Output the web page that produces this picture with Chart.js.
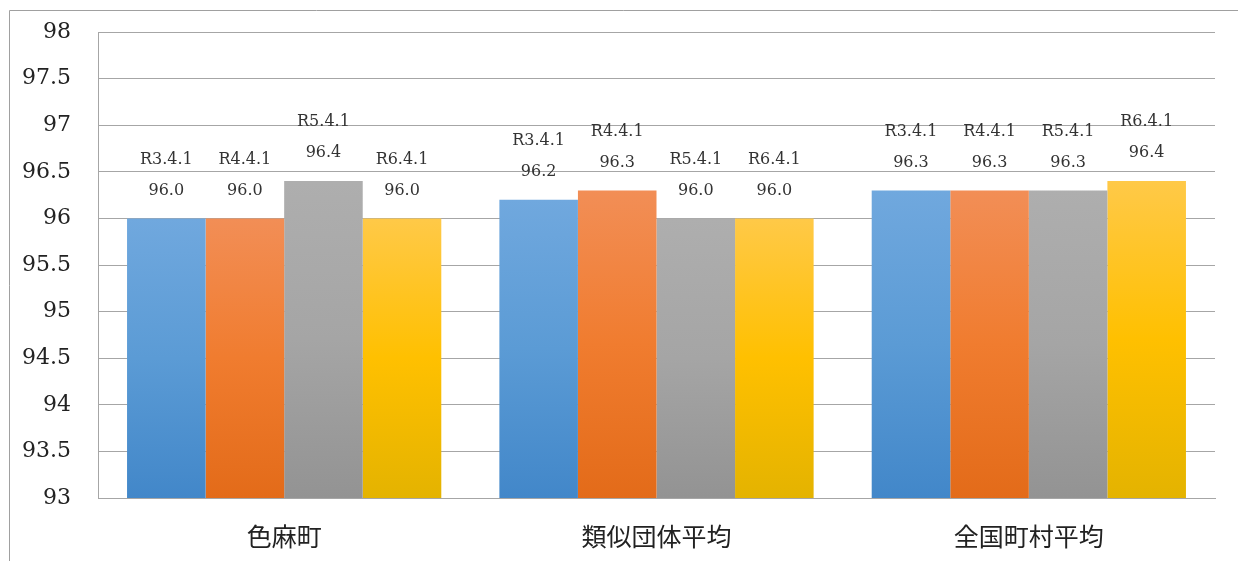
<!DOCTYPE html>
<html>
<head>
<meta charset="utf-8">
<script src="https://cdn.jsdelivr.net/npm/chart.js@4/dist/chart.umd.min.js"></script>
<style>
  html, body { margin: 0; padding: 0; background: #fff; }
  #wrap { position: relative; width: 1238px; height: 561px; }
</style>
</head>
<body>
<div id="wrap"><canvas id="c" width="1238" height="561"></canvas></div>
<script>
// 区分（横軸）
const categories = ['色麻町', '類似団体平均', '全国町村平均'];
// 基準日ごとの系列名
const seriesNames = ['R3.4.1', 'R4.4.1', 'R5.4.1', 'R6.4.1'];
// 系列ごとの値
const r3Values = [96.0, 96.2, 96.3];
const r4Values = [96.0, 96.3, 96.3];
const r5Values = [96.4, 96.0, 96.3];
const r6Values = [96.0, 96.0, 96.4];
// 縦軸の範囲
const yMin = 93, yMax = 98, yStep = 0.5;

// 棒の塗り（上・中・下）
const palettes = [
  ['#70a8de', '#5b9bd5', '#4287c9'],
  ['#f28e56', '#f07c2f', '#e36b19'],
  ['#aeaeae', '#a5a5a5', '#939393'],
  ['#ffc948', '#ffc000', '#e4b300']
];

function barGradient(idx) {
  return function (ctx) {
    const chart = ctx.chart;
    const area = chart.chartArea;
    if (!area || ctx.type !== 'data') return palettes[idx][1];
    const y = chart.scales.y;
    const top = y.getPixelForValue(ctx.raw);
    const bottom = y.getPixelForValue(yMin);
    const g = chart.ctx.createLinearGradient(0, top, 0, bottom);
    g.addColorStop(0, palettes[idx][0]);
    g.addColorStop(0.5, palettes[idx][1]);
    g.addColorStop(1, palettes[idx][2]);
    return g;
  };
}

const seriesValues = [r3Values, r4Values, r5Values, r6Values];
const datasets = seriesNames.map((name, i) => ({
  label: name,
  data: seriesValues[i],
  backgroundColor: barGradient(i),
  borderWidth: 0,
  barPercentage: 1.0,
  categoryPercentage: 0.844
}));

// 棒の上に系列名と値を二段で描く
const barLabels = {
  id: 'barLabels',
  afterDatasetsDraw(chart) {
    const c = chart.ctx;
    c.save();
    c.font = '16px "DejaVu Serif"';
    c.fillStyle = '#333333';
    c.textAlign = 'center';
    c.textBaseline = 'middle';
    chart.data.datasets.forEach((ds, di) => {
      chart.getDatasetMeta(di).data.forEach((bar, i) => {
        const v = ds.data[i];
        c.fillText(ds.label, bar.x, bar.y - 59);
        c.fillText(v.toFixed(1), bar.x, bar.y - 28);
      });
    });
    c.restore();
  }
};

// 外枠
const frame = {
  id: 'frame',
  beforeDraw(chart) {
    const c = chart.ctx;
    c.save();
    c.strokeStyle = '#a0a0a0';
    c.lineWidth = 1;
    c.beginPath();
    c.moveTo(9.5, 561);
    c.lineTo(9.5, 10.5);
    c.lineTo(1238, 10.5);
    c.stroke();
    c.restore();
  }
};

new Chart(document.getElementById('c'), {
  type: 'bar',
  data: { labels: categories, datasets },
  plugins: [frame, barLabels],
  options: {
    responsive: false,
    animation: false,
    layout: { padding: { left: 0, top: 32, right: 23, bottom: 0 } },
    plugins: {
      legend: { display: false },
      tooltip: { enabled: false }
    },
    scales: {
      x: {
        grid: { display: false, drawTicks: false },
        border: { display: true, color: '#a6a6a6', width: 1 },
        ticks: {
          padding: 23,
          color: '#222',
          font: { family: '"Noto Sans CJK JP"', size: 25 }
        },
        afterFit(scale) { scale.height = 63; }
      },
      y: {
        min: yMin,
        max: yMax,
        grid: { color: '#a6a6a6', lineWidth: 1, drawTicks: false },
        border: { display: true, color: '#a6a6a6', width: 1 },
        ticks: {
          stepSize: yStep,
          padding: 27,
          color: '#222',
          font: { family: '"DejaVu Serif"', size: 22 },
          callback: (v) => String(v)
        },
        afterFit(scale) { scale.width = 98; scale.paddingTop = 0; }
      }
    }
  }
});
</script>
</body>
</html>
